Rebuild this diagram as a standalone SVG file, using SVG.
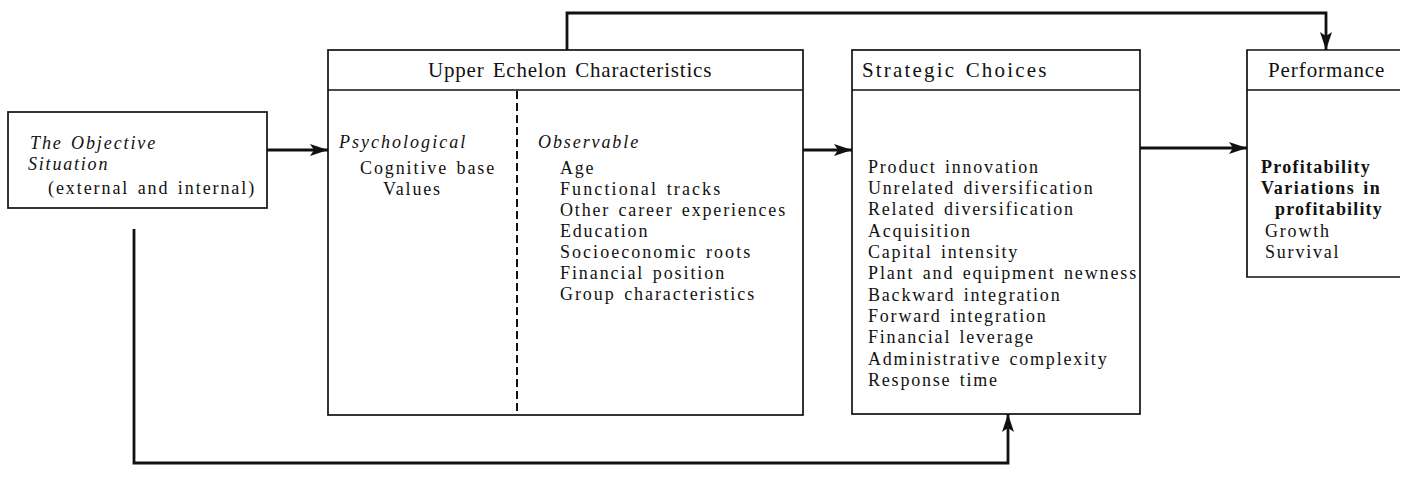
<svg xmlns="http://www.w3.org/2000/svg" width="1403" height="477" viewBox="0 0 1403 477">
<style>
text{font-family:"Liberation Serif","Times New Roman",serif;font-size:18px;fill:#111;letter-spacing:1.8px;word-spacing:2px}
.h{font-size:21px;letter-spacing:0.6px}
.it{font-style:italic}
.b{font-weight:bold;letter-spacing:1.2px}
.box{fill:none;stroke:#111;stroke-width:1.7}
.conn{fill:none;stroke:#111;stroke-width:2.8}
</style>
<defs>
<marker id="ah" viewBox="0 0 18 12" refX="18" refY="6" markerWidth="18" markerHeight="12" markerUnits="userSpaceOnUse" orient="auto">
<path d="M0,0 L18,6 L0,12 L4,6 Z" fill="#111"/>
</marker>
</defs>
<rect width="1403" height="477" fill="#fff"/>

<g id="objective-situation">
<rect class="box" x="8" y="112" width="259" height="96"/>
<text class="it" x="30" y="149" textLength="127" lengthAdjust="spacing">The Objective</text>
<text class="it" x="28" y="170">Situation</text>
<text x="48" y="194" textLength="208" lengthAdjust="spacing">(external and internal)</text>
</g>

<g id="upper-echelon">
<rect class="box" x="328" y="50" width="475" height="365"/>
<line class="box" x1="328" y1="90" x2="803" y2="90"/>
<line x1="517" y1="91" x2="517" y2="415" stroke="#111" stroke-width="2" stroke-dasharray="8,4"/>
<text class="h" x="428" y="77" textLength="284" lengthAdjust="spacing">Upper Echelon Characteristics</text>
<text class="it" x="339" y="148" textLength="128" lengthAdjust="spacing">Psychological</text>
<text x="360" y="174" textLength="136" lengthAdjust="spacing">Cognitive base</text>
<text x="383" y="195">Values</text>
<text class="it" x="538" y="148" textLength="102" lengthAdjust="spacing">Observable</text>
<text x="560" y="174">Age</text>
<text x="560" y="195" textLength="162" lengthAdjust="spacing">Functional tracks</text>
<text x="560" y="216" textLength="227" lengthAdjust="spacing">Other career experiences</text>
<text x="560" y="237">Education</text>
<text x="560" y="258" textLength="192" lengthAdjust="spacing">Socioeconomic roots</text>
<text x="560" y="279" textLength="166" lengthAdjust="spacing">Financial position</text>
<text x="560" y="300" textLength="196" lengthAdjust="spacing">Group characteristics</text>
</g>

<g id="strategic-choices">
<rect class="box" x="852" y="50" width="288" height="364"/>
<line class="box" x1="852" y1="90" x2="1140" y2="90"/>
<text class="h" x="862" y="77" textLength="185" lengthAdjust="spacing">Strategic Choices</text>
<text x="868" y="173">Product innovation</text>
<text x="868" y="194">Unrelated diversification</text>
<text x="868" y="215">Related diversification</text>
<text x="868" y="237">Acquisition</text>
<text x="868" y="258">Capital intensity</text>
<text x="868" y="279" textLength="270" lengthAdjust="spacing">Plant and equipment newness</text>
<text x="868" y="301">Backward integration</text>
<text x="868" y="322">Forward integration</text>
<text x="868" y="343">Financial leverage</text>
<text x="868" y="365">Administrative complexity</text>
<text x="868" y="386">Response time</text>
</g>

<g id="performance">
<path class="box" d="M1400,50 H1247 V277 H1400 M1247,90 H1400"/>
<text class="h" x="1268" y="77" textLength="117" lengthAdjust="spacing">Performance</text>
<text class="b" x="1261" y="173" textLength="110" lengthAdjust="spacing">Profitability</text>
<text class="b" x="1261" y="194" textLength="120" lengthAdjust="spacing">Variations in</text>
<text class="b" x="1275" y="215" textLength="108" lengthAdjust="spacing">profitability</text>
<text x="1265" y="237">Growth</text>
<text x="1265" y="258">Survival</text>
</g>

<g id="connectors">
<line class="conn" x1="267" y1="150" x2="328" y2="150" marker-end="url(#ah)"/>
<line class="conn" x1="803" y1="150" x2="852" y2="150" marker-end="url(#ah)"/>
<line class="conn" x1="1140" y1="148" x2="1247" y2="148" marker-end="url(#ah)"/>
<path class="conn" d="M567,50 V13 H1326 V50" marker-end="url(#ah)"/>
<path class="conn" d="M134,229 V463 H1008 V414" marker-end="url(#ah)"/>
</g>
</svg>
